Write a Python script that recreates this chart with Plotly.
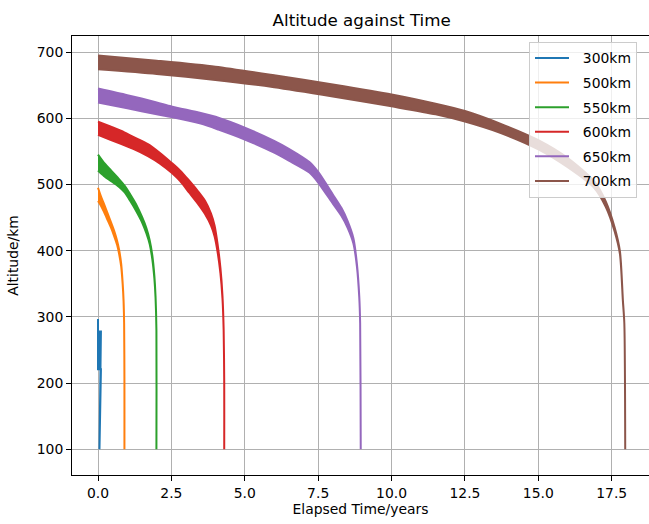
import plotly.graph_objects as go

# Orbit decay runs: elapsed time (years) with the highest / lowest altitude (km)
# reached over the orbits at that time, which gives each run its band thickness.
labels = ["300km", "500km", "550km", "600km", "650km", "700km"]
colors = ["#1f77b4", "#ff7f0e", "#2ca02c", "#d62728", "#9467bd", "#8c564b"]

t_300 = [0.0, 0.0, 0.1, 0.05]
hi_300 = [297, 278, 278, 100]
lo_300 = [297, 221, 221, 100]

t_500 = [0.0, 0.1, 0.2, 0.34, 0.45, 0.55, 0.65, 0.72, 0.79, 0.84, 0.87, 0.89, 0.9, 0.9]
hi_500 = [495, 482, 471, 455, 442, 430, 415, 401, 380, 351, 326, 290, 200, 100]
lo_500 = [475, 468, 459, 445, 434, 422, 409, 395, 376, 349, 324, 290, 200, 100]

t_550 = [0.0, 0.2, 0.45, 0.7, 0.91, 1.1, 1.3, 1.5, 1.65, 1.76, 1.85, 1.92, 1.96, 1.99, 1.99]
hi_550 = [545, 533, 521, 509, 498, 485, 470, 451, 434, 416, 393, 362, 331, 280, 100]
lo_550 = [521, 513, 505, 497, 488, 475, 460, 443, 426, 410, 387, 358, 329, 280, 100]

t_600 = [0.0, 0.4, 0.8, 1.2, 1.7, 2.1, 2.5, 2.8, 3.1, 3.4, 3.65, 3.85, 3.97, 4.07, 4.17, 4.24, 4.28, 4.3, 4.3]
hi_600 = [595, 588, 581, 572, 561, 548, 533, 521, 506, 490, 475, 456, 438, 411, 374, 332, 281, 200, 100]
lo_600 = [575, 568, 561, 554, 543, 532, 518, 505, 488, 471, 455, 438, 422, 399, 366, 328, 279, 200, 100]

t_650 = [0.0, 1.0, 2.0, 2.5, 3.5, 4.1, 5.0, 6.0, 6.5, 7.2, 7.5, 8.0, 8.3, 8.5, 8.7, 8.82, 8.9, 8.93, 8.95]
hi_650 = [645, 635, 624, 618, 608, 601, 586, 566, 554, 534, 519, 485, 464, 445, 419, 380, 331, 290, 100]
lo_650 = [624, 615, 606, 602, 592, 583, 568, 548, 536, 518, 503, 471, 452, 435, 411, 376, 329, 290, 100]

t_700 = [0.0, 2.0, 4.0, 6.0, 8.0, 10.0, 11.5, 12.5, 13.7, 15.0, 16.0, 16.9, 17.3, 17.6, 17.78, 17.88, 17.93, 17.96]
hi_700 = [695, 687, 678, 665, 651, 636, 622, 611, 592, 567, 540, 505, 474, 435, 399, 326, 290, 100]
lo_700 = [674, 667, 658, 647, 633, 618, 606, 595, 578, 553, 526, 495, 466, 429, 395, 324, 290, 100]

runs = [
    (t_300, hi_300, lo_300),
    (t_500, hi_500, lo_500),
    (t_550, hi_550, lo_550),
    (t_600, hi_600, lo_600),
    (t_650, hi_650, lo_650),
    (t_700, hi_700, lo_700),
]

x_ticks = [0.0, 2.5, 5.0, 7.5, 10.0, 12.5, 15.0, 17.5]
x_tick_text = ["0.0", "2.5", "5.0", "7.5", "10.0", "12.5", "15.0", "17.5"]
y_ticks = [100, 200, 300, 400, 500, 600, 700]

FONT = "DejaVu Sans"


def band_outline(t, hi, lo, close):
    """Outline along the upper envelope and back along the lower one."""
    pts = list(zip(t, hi)) + list(zip(t, lo))[::-1]
    out = []
    for p in pts:
        if not out or p != out[-1]:
            out.append(p)
    if out[-1] == out[0]:
        out.pop()
    if close:
        out.append(out[0])
    return [p[0] for p in out], [p[1] for p in out]


fig = go.Figure()

for i, ((t, hi, lo), name, c) in enumerate(zip(runs, labels, colors)):
    smooth = i > 0
    bx, by = band_outline(t, hi, lo, close=not smooth)
    fig.add_trace(go.Scatter(
        x=bx, y=by,
        mode="lines", fill="toself", fillcolor=c,
        line=dict(color=c, width=2,
                  shape="spline" if smooth else "linear",
                  smoothing=0.7 if smooth else None),
        showlegend=False, hoverinfo="skip",
    ))

# Legend entries drawn as plain line samples
for name, c in zip(labels, colors):
    fig.add_trace(go.Scatter(
        x=[None], y=[None], mode="lines", name="  " + name,
        line=dict(color=c, width=2), legendgroup=name,
    ))

axis_common = dict(
    showgrid=True, gridcolor="#b0b0b0", gridwidth=0.8,
    zeroline=False, showline=True, linecolor="black", linewidth=1,
    ticks="outside", ticklen=5, tickwidth=0.8, tickcolor="black",
    tickfont=dict(family=FONT, size=13.9, color="black"),
)

fig.update_layout(
    width=649, height=524,
    margin=dict(l=72, r=0, t=36, b=49),
    paper_bgcolor="white", plot_bgcolor="white",
    font=dict(family=FONT, size=13.9, color="black"),
    title=dict(
        text="Altitude against Time",
        font=dict(family=FONT, size=16.7, color="black"),
        xref="container", x=361.7 / 649, xanchor="center",
        yref="container", y=1 - 20 / 524, yanchor="middle",
    ),
    xaxis=dict(
        range=[-0.886, 18.77], tickvals=x_ticks, ticktext=x_tick_text,
        mirror=True,
        title=dict(text="Elapsed Time/years", font=dict(family=FONT, size=13.9), standoff=4),
        **axis_common,
    ),
    yaxis=dict(
        range=[61.2, 724.3], tickvals=y_ticks,
        mirror=False,
        title=dict(text="Altitude/km", font=dict(family=FONT, size=13.9), standoff=14),
        **axis_common,
    ),
    legend=dict(
        x=(529 - 72) / 577, xanchor="left",
        y=1 - (41.5 - 36) / 439, yanchor="top",
        bgcolor="rgba(255,255,255,0.8)", bordercolor="#cccccc", borderwidth=1,
        font=dict(family=FONT, size=13.9, color="black"),
        tracegroupgap=3.5, itemwidth=34,
    ),
    showlegend=True,
)

fig.write_html("out.html")
